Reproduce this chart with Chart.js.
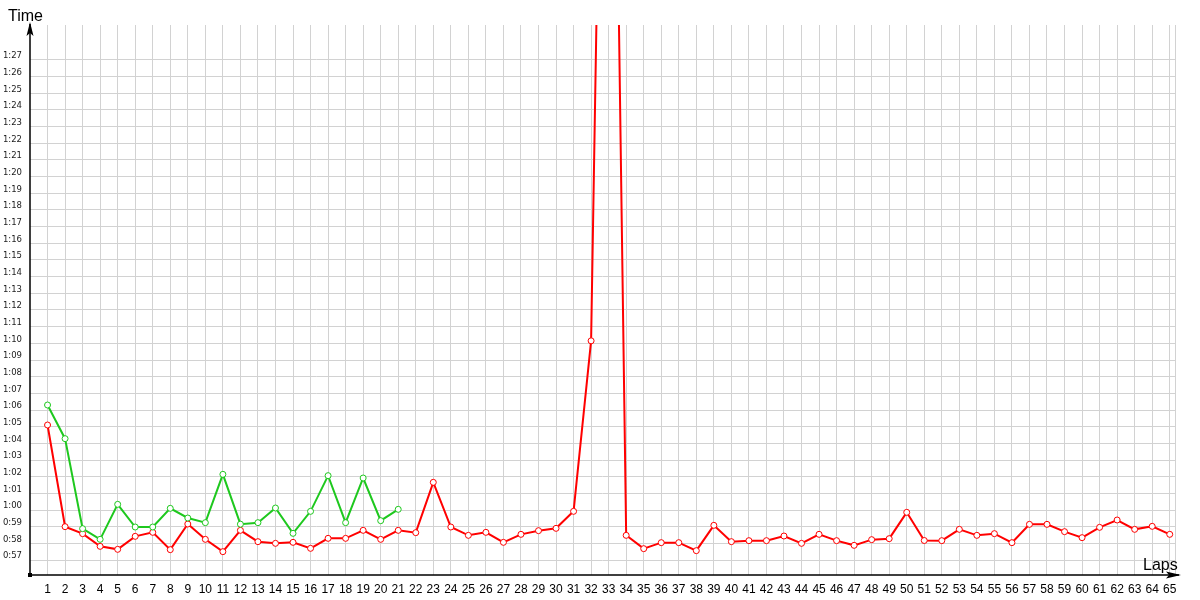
<!DOCTYPE html>
<html>
<head>
<meta charset="utf-8">
<script src="https://cdn.jsdelivr.net/npm/chart.js@4/dist/chart.umd.min.js"></script>
<style>
  body { margin: 0; background: #fff; }
  canvas { display: block; }
</style>
</head>
<body>
<canvas id="lap-chartcanvas" width="1200" height="600"></canvas>
<script>
const laps = [1, 2, 3, 4, 5, 6, 7, 8, 9, 10, 11, 12, 13, 14, 15, 16, 17, 18, 19, 20,
    21, 22, 23, 24, 25, 26, 27, 28, 29, 30, 31, 32, 33, 34, 35, 36, 37, 38, 39, 40,
    41, 42, 43, 44, 45, 46, 47, 48, 49, 50, 51, 52, 53, 54, 55, 56, 57, 58, 59, 60,
    61, 62, 63, 64, 65];

// lap times in seconds
const redTimes = [65.1, 59.0, 58.58, 57.82, 57.64, 58.42, 58.66, 57.62, 59.16, 58.24,
    57.5, 58.78, 58.1, 58.0, 58.06, 57.7, 58.3, 58.3, 58.78, 58.24,
    58.78, 58.64, 61.66, 58.98, 58.48, 58.66, 58.06, 58.54, 58.76, 58.9,
    59.92, 70.15, 133.0, 58.48, 57.68, 58.04, 58.04, 57.56, 59.08, 58.1,
    58.16, 58.16, 58.44, 58.0, 58.54, 58.16, 57.88, 58.22, 58.28, 59.86,
    58.17, 58.16, 58.84, 58.48, 58.58, 58.04, 59.14, 59.14, 58.7, 58.34,
    58.96, 59.4, 58.84, 59.02, 58.54];

const greenTimes = [66.3, 64.28, 58.88, 58.24, 60.34, 58.98, 58.98, 60.1, 59.52, 59.24,
    62.14, 59.15, 59.24, 60.12, 58.6, 59.92, 62.06, 59.24, 61.92, 59.36,
    60.04];

const yTickValues = [57, 58, 59, 60, 61, 62, 63, 64, 65, 66, 67, 68, 69, 70, 71, 72,
    73, 74, 75, 76, 77, 78, 79, 80, 81, 82, 83, 84, 85, 86, 87];
const yTickLabels = ['0:57', '0:58', '0:59', '1:00', '1:01', '1:02', '1:03', '1:04',
    '1:05', '1:06', '1:07', '1:08', '1:09', '1:10', '1:11', '1:12', '1:13', '1:14',
    '1:15', '1:16', '1:17', '1:18', '1:19', '1:20', '1:21', '1:22', '1:23', '1:24',
    '1:25', '1:26', '1:27'];

const toPoints = (values) => values.map((v, i) => ({ x: laps[i], y: v }));

// axes with arrows, origin dot and the two axis names
const axisArrows = {
    id: 'axisArrows',
    afterDraw(chart) {
        const { ctx, chartArea } = chart;
        const { left, top, right, bottom } = chartArea;
        ctx.save();
        ctx.strokeStyle = '#000';
        ctx.fillStyle = '#000';
        ctx.lineWidth = 1.5;
        ctx.beginPath();
        ctx.moveTo(left, bottom);
        ctx.lineTo(right + 4, bottom);
        ctx.moveTo(left, bottom);
        ctx.lineTo(left, top - 1);
        ctx.stroke();

        // right arrow
        ctx.beginPath();
        ctx.moveTo(right + 6, bottom);
        ctx.lineTo(right - 9, bottom - 3.5);
        ctx.lineTo(right - 6, bottom);
        ctx.lineTo(right - 9, bottom + 3.5);
        ctx.closePath();
        ctx.fill();

        // up arrow
        ctx.beginPath();
        ctx.moveTo(left, top - 3);
        ctx.lineTo(left - 3.5, top + 11);
        ctx.lineTo(left, top + 8);
        ctx.lineTo(left + 3.5, top + 11);
        ctx.closePath();
        ctx.fill();

        ctx.fillRect(left - 2, bottom - 2, 4, 4);

        ctx.font = '16px "Liberation Sans", Arial, sans-serif';
        ctx.textBaseline = 'alphabetic';
        ctx.textAlign = 'left';
        ctx.fillText('Time', 8, 21);
        ctx.fillText('Laps', right - 32, bottom - 5);
        ctx.restore();
    }
};

const ctx = document.getElementById('lap-chartcanvas');
const myChart = new Chart(ctx, {
    type: 'line',
    data: {
        datasets: [{
            label: 'Driver 2',
            data: toPoints(greenTimes),
            borderColor: '#1ec81e',
            backgroundColor: '#ffffff',
            borderWidth: 2,
            pointRadius: 3,
            pointBorderWidth: 1,
            pointBackgroundColor: '#ffffff',
            pointBorderColor: '#1ec81e',
            tension: 0,
        }, {
            label: 'Driver 1',
            data: toPoints(redTimes),
            borderColor: '#ff0000',
            backgroundColor: '#ffffff',
            borderWidth: 2,
            pointRadius: 3,
            pointBorderWidth: 1,
            pointBackgroundColor: '#ffffff',
            pointBorderColor: '#ff0000',
            tension: 0,
        }]
    },
    options: {
        responsive: false,
        animation: false,
        layout: {
            padding: { top: 25, right: 25, left: 0, bottom: 0 }
        },
        plugins: {
            legend: { display: false },
            tooltip: { enabled: false },
        },
        scales: {
            x: {
                type: 'linear',
                min: 0,
                max: 65.3,
                afterBuildTicks: (scale) => {
                    scale.ticks = laps.map(v => ({ value: v })).concat([{ value: 65.3 }]);
                },
                afterFit: (scale) => { scale.height = 25; },
                border: { display: false },
                grid: {
                    color: '#d2d2d2',
                    drawTicks: false,
                },
                ticks: {
                    autoSkip: false,
                    maxRotation: 0,
                    padding: 7,
                    color: '#000',
                    font: { family: '"Liberation Sans", Arial, sans-serif', size: 12 },
                    callback: (v) => laps.includes(v) ? String(v) : '',
                }
            },
            y: {
                min: 56.1,
                max: 89.1,
                afterBuildTicks: (scale) => {
                    scale.ticks = yTickValues.map(v => ({ value: v }));
                },
                afterFit: (scale) => { scale.width = 30; },
                border: { display: false },
                grid: {
                    color: '#d2d2d2',
                    drawTicks: false,
                },
                ticks: {
                    padding: 8,
                    labelOffset: -4,
                    color: '#1a1a1a',
                    font: { family: '"DejaVu Sans", sans-serif', size: 8.5 },
                    callback: (v, i) => yTickLabels[i],
                }
            }
        }
    },
    plugins: [axisArrows]
});
</script>
</body>
</html>
